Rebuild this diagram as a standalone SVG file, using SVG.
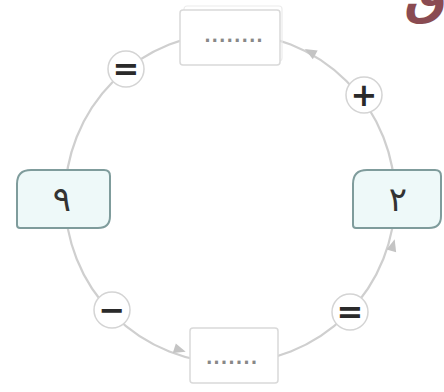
<svg xmlns="http://www.w3.org/2000/svg" width="444" height="392" viewBox="0 0 444 392">
<style>
.ring{fill:none;stroke:#cfcfcf;stroke-width:2.2}
.num{fill:#eef9f9;stroke:#7f9c9c;stroke-width:2}
.blank{fill:#fff;stroke:#d9d9d9;stroke-width:1.5}
.blank2{fill:none;stroke:#ececec;stroke-width:1.2}
.op{fill:#fff;stroke:#d4d4d4;stroke-width:1.5}
.sym{font-family:"DejaVu Sans",sans-serif;text-anchor:middle;fill:#2a2a2a}
.dig{font-family:"DejaVu Sans",sans-serif;font-size:34px;text-anchor:middle;fill:#333}
.dots{font-family:"DejaVu Sans",sans-serif;font-size:17px;font-weight:bold;text-anchor:middle;fill:#888;letter-spacing:1px}
.ah{fill:#c4c4c4}
</style>
<defs>
<path id="arw" d="M6,0 L-6,-5 L-6,5 Z"/>
</defs>
<text x="404" y="14" font-family="'DejaVu Sans',sans-serif" font-size="48" font-weight="bold" fill="#6e1f28" opacity="0.8">ق</text>
<g id="connectors">
<circle class="ring" cx="230" cy="198" r="165"/>
<use href="#arw" class="ah" transform="translate(180,350) rotate(18)"/>
<use href="#arw" class="ah" transform="translate(310,52) rotate(209)"/>
<use href="#arw" class="ah" transform="translate(393,245) rotate(-74)"/>
</g>
<g id="box-top">
<rect class="blank2" x="184" y="6" width="98" height="55" rx="3"/>
<rect class="blank" x="180" y="10" width="100" height="55" rx="3"/>
<text class="dots" x="234" y="42">........</text>
</g>
<g id="box-bottom">
<rect class="blank" x="190" y="328" width="88" height="55" rx="3"/>
<text class="dots" x="232" y="364">.......</text>
</g>
<g id="box-left">
<path class="num" d="M31,170 H104 Q110,170 110,176 V216 Q110,228 98,228 H20 Q17,228 17,225 V184 Q17,170 31,170 Z"/>
<text class="dig" x="62" y="211">٩</text>
</g>
<g id="box-right">
<path class="num" d="M367,170 H435 Q441,170 441,176 V216 Q441,228 429,228 H356 Q353,228 353,225 V184 Q353,170 367,170 Z"/>
<text class="dig" x="398" y="211">٢</text>
</g>
<g id="op-plus">
<circle class="op" cx="364" cy="95" r="18"/>
<text class="sym" x="364" y="106" font-size="32" font-weight="bold">+</text>
</g>
<g id="op-eq-right">
<circle class="op" cx="350" cy="312" r="18"/>
<text class="sym" x="350" y="323" font-size="32" font-weight="bold">=</text>
</g>
<g id="op-minus">
<circle class="op" cx="112" cy="310" r="18"/>
<text class="sym" x="112" y="321" font-size="32" font-weight="bold">−</text>
</g>
<g id="op-eq-left">
<circle class="op" cx="126" cy="69" r="18"/>
<text class="sym" x="126" y="80" font-size="32" font-weight="bold" fill="#666">=</text>
</g>
</svg>
